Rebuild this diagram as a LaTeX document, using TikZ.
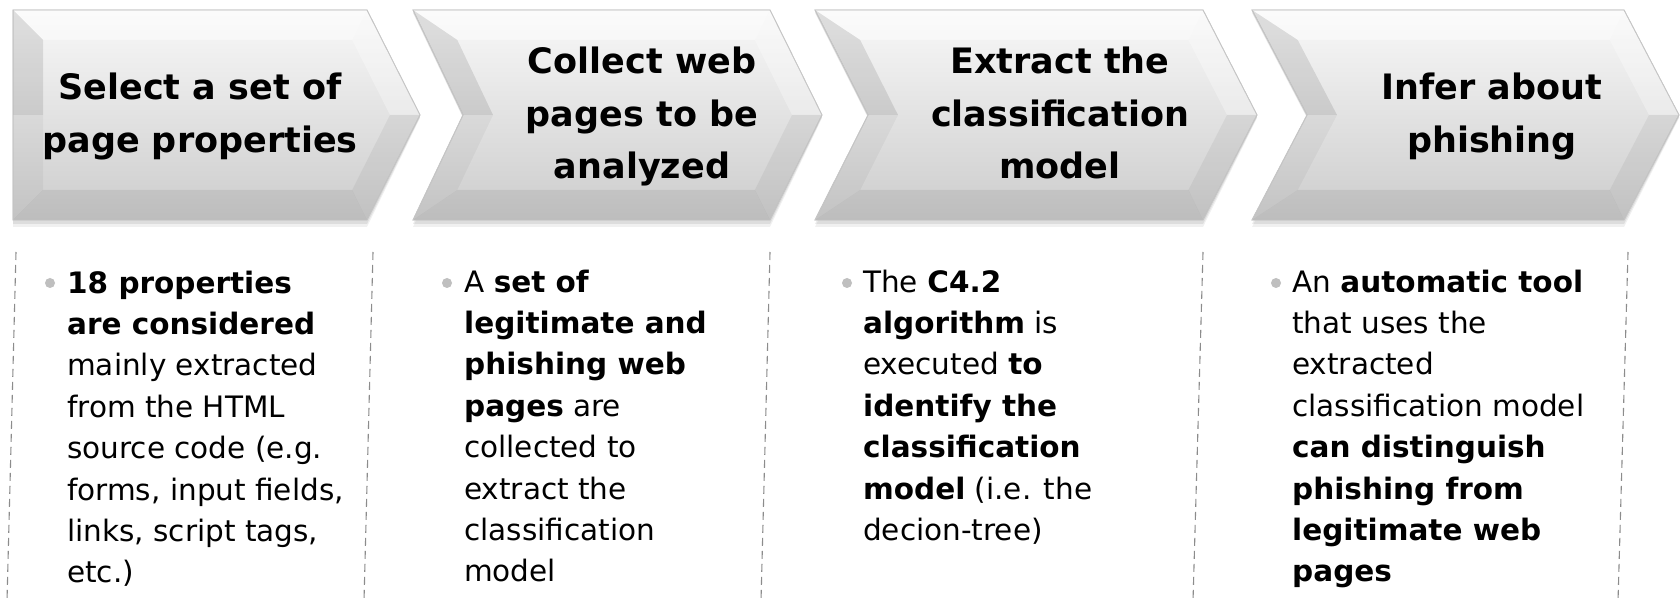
\documentclass[tikz,border=0pt]{standalone}
\usepackage{fontspec}
\setmainfont{DejaVu Sans}
\usetikzlibrary{calc}

\tikzset{
  chevfill/.style={top color=gray!5, bottom color=gray!40, draw=gray!45, line width=0.8pt},
  titletext/.style={font=\fontsize{35}{52.5}\selectfont\bfseries, align=center, anchor=base, inner sep=0pt},
  bodytext/.style={font=\fontsize{29.5}{41.4}\selectfont, align=left, anchor=base west, inner sep=0pt},
  bulletdot/.style={fill=gray!50, draw=none},
  sepline/.style={draw=black!45, line width=1.1pt, dash pattern=on 8pt off 5pt},
}

% #1 left x, #2 notch x, #3 top-right x, #4 tip x
\newcommand\mychev[4]{%
  \fill[black, opacity=0.06] (#1,13) -- (#3,13) -- (#4,118) -- (#3,227) -- (#1,227) -- (#2,118) -- cycle;
  \fill[black, opacity=0.08] (#1,12) -- (#3,12) -- (#4,117) -- (#3,224) -- (#1,224) -- (#2,117) -- cycle;
  \path[chevfill] (#1,10) -- (#3,10) -- (#4,115) -- (#3,220) -- (#1,220) -- (#2,115) -- cycle;
  \coordinate (iTL) at ({#1+30+(#2-#1)*30/105},40);
  \coordinate (iBL) at ({#1+30+(#2-#1)*30/105},190);
  \coordinate (iN) at ({#2+30},115);
  \coordinate (iTR) at ({#3-30+(#4-#3)*30/105},40);
  \coordinate (iBR) at ({#3-30+(#4-#3)*30/105},190);
  \coordinate (iT) at ({#4-30},115);
  \fill[white, opacity=0.45] (#1,10) -- (#3,10) -- (iTR) -- (iTL) -- cycle;
  \fill[black, opacity=0.10] (#1,10) -- (iTL) -- (iN) -- (#2,115) -- cycle;
  \fill[black, opacity=0.04] (#2,115) -- (iN) -- (iBL) -- (#1,220) -- cycle;
  \fill[black, opacity=0.07] (iBL) -- (iBR) -- (#3,220) -- (#1,220) -- cycle;
  \fill[white, opacity=0.30] (#3,10) -- (#4,115) -- (iT) -- (iTR) -- cycle;
  \fill[black, opacity=0.05] (iT) -- (#4,115) -- (#3,220) -- (iBR) -- cycle;
  \draw[gray!45, line width=0.8pt] (#1,10) -- (#3,10) -- (#4,115) -- (#3,220) -- (#1,220) -- (#2,115) -- cycle;
}

\begin{document}
\begin{tikzpicture}[x=1pt, y=-1pt]
\useasboundingbox (0,0) rectangle (1680,601);
\fill[white] (0,0) rectangle (1680,601);

\mychev{13}{13}{367}{420}
\mychev{413}{463}{770}{822}
\mychev{815}{868}{1203}{1257}
\mychev{1252}{1307}{1624}{1679}

% base anchor = baseline of the last line
\node[titletext] (t1) at (200,152.5) {Select a set of\\page properties};
\node[titletext] (t2) at (642,179) {Collect web\\pages to be\\analyzed};
\node[titletext] (t3) at (1060,179) {Extract the\\classification\\model};
\node[titletext] (t4) at (1492,152.5) {Infer about\\phishing};

\draw[sepline] (16,252) -- (7,601);
\draw[sepline] (373,252) -- (364,601);
\draw[sepline] (770,252) -- (761,601);
\draw[sepline] (1203,252) -- (1193,601);
\draw[sepline] (1628,252) -- (1618,601);

\fill[bulletdot] (50,283) circle (5);
\fill[bulletdot] (447,283) circle (5);
\fill[bulletdot] (847,283) circle (5);
\fill[bulletdot] (1276,283) circle (5);

\node[bodytext] (b1) at (67,582.8) {\textbf{18 properties}\\\textbf{are considered}\\mainly extracted\\from the HTML\\source code (e.g.\\forms, input fields,\\links, script tags,\\etc.)};
\node[bodytext] (b2) at (464,581.8) {A \textbf{set of}\\\textbf{legitimate and}\\\textbf{phishing web}\\\textbf{pages} are\\collected to\\extract the\\classification\\model};
\node[bodytext] (b3) at (863,540.4) {The \textbf{C4.2}\\\textbf{algorithm} is\\executed \textbf{to}\\\textbf{identify the}\\\textbf{classification}\\\textbf{model} (i.e. the\\decion-tree)};
\node[bodytext] (b4) at (1292,581.8) {An \textbf{automatic tool}\\that uses the\\extracted\\classification model\\\textbf{can distinguish}\\\textbf{phishing from}\\\textbf{legitimate web}\\\textbf{pages}};
\end{tikzpicture}
\end{document}
